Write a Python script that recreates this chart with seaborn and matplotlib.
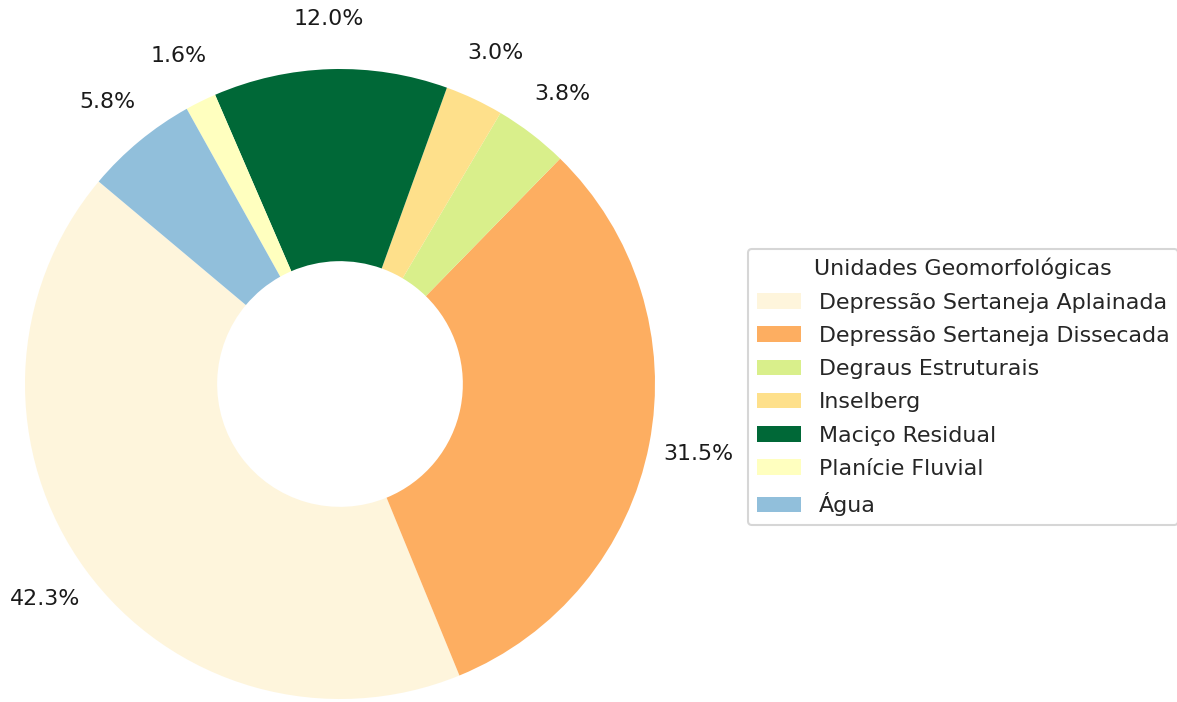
import matplotlib
matplotlib.use("Agg")
import matplotlib.pyplot as plt
import seaborn as sns

# Area share of each geomorphological unit (%)
unidades = [
    "Depressão Sertaneja Aplainada",
    "Depressão Sertaneja Dissecada",
    "Degraus Estruturais",
    "Inselberg",
    "Maciço Residual",
    "Planície Fluvial",
    "Água",
]
percentuais = [42.3, 31.5, 3.8, 3.0, 12.0, 1.6, 5.8]
cores = ["#fef5dc", "#fdae61", "#d9ef8b", "#fee08b", "#006837", "#ffffbf", "#91bfdb"]

sns.set_style("white")
plt.rcParams["font.family"] = ["DejaVu Sans"]
FS = 10.6
plt.rcParams["font.size"] = FS

W, H, DPI = 1177, 702, 150
fig = plt.figure(figsize=(W / DPI, H / DPI), dpi=DPI)

# square axes holding the donut, centred at (340, 384) px with radius 315 px
cx, cy, r = 340, 384, 315
lim = 1.25
side = 2 * lim * r
ax = fig.add_axes([(cx - side / 2) / W, ((H - cy) - side / 2) / H, side / W, side / H])

wedges, _, autotexts = ax.pie(
    percentuais,
    colors=sns.color_palette(cores),
    startangle=140,
    counterclock=True,
    autopct="%1.1f%%",
    pctdistance=1.16,
    wedgeprops=dict(width=0.61, linewidth=0),
    textprops=dict(fontsize=FS, color="#1a1a1a"),
)
ax.set_xlim(-lim, lim)
ax.set_ylim(-lim, lim)
ax.set_aspect("equal")
ax.axis("off")

fig.legend(
    wedges,
    unidades,
    title="Unidades Geomorfológicas",
    loc="center left",
    bbox_to_anchor=(748 / W, (H - 387) / H),
    borderaxespad=0,
    fontsize=FS,
    title_fontsize=FS,
    labelspacing=0.6,
    frameon=True,
)

fig.savefig("out.png", dpi=DPI)
